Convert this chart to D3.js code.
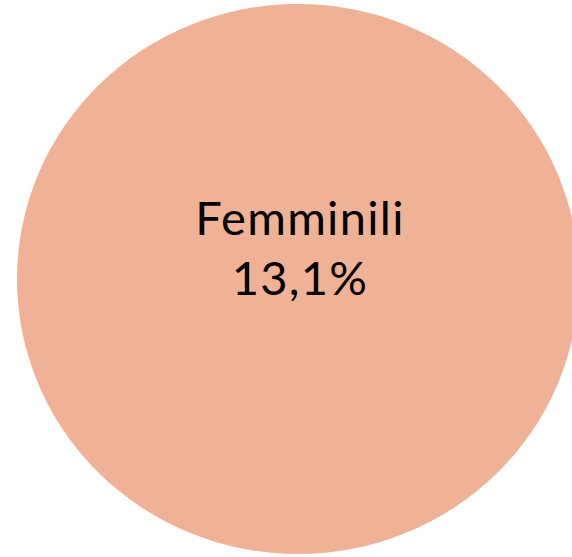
<!DOCTYPE html>
<html>
<head>
<meta charset="utf-8">
<script src="https://cdn.jsdelivr.net/npm/d3@7"></script>
<style>
  html, body { margin: 0; padding: 0; background: #ffffff; overflow: hidden; }
  svg { display: block; }
</style>
</head>
<body>
<svg id="chart" width="572" height="557"></svg>
<script>
const categories = ["Femminili"];
const values = [13.1];
const labels = ["13,1%"];
const colors = ["#F0B296"];

const svg = d3.select("#chart");
const cx = 298, cy = 279, rx = 281, ry = 275;

const pie = d3.pie().sort(null).value(d => d);
const arcs = pie(values);
const arc = d3.arc().innerRadius(0).outerRadius(ry);

const g = svg.append("g").attr("transform", `translate(${cx},${cy})`);
g.selectAll("path")
  .data(arcs)
  .join("path")
  .attr("transform", `scale(${rx / ry},1)`)
  .attr("d", arc)
  .attr("fill", (d, i) => colors[i]);

const lbl = g.selectAll("text.lbl")
  .data(arcs)
  .join("text")
  .attr("class", "lbl")
  .attr("text-anchor", "middle")
  .attr("font-family", "Lato, 'Open Sans', sans-serif")
  .attr("font-size", 47)
  .attr("letter-spacing", 1.3)
  .attr("fill", "#000000");
lbl.append("tspan").attr("x", 2).attr("y", -44).text((d, i) => categories[i]);
lbl.append("tspan").attr("x", 2).attr("y", 16).text((d, i) => labels[i]);
</script>
</body>
</html>
